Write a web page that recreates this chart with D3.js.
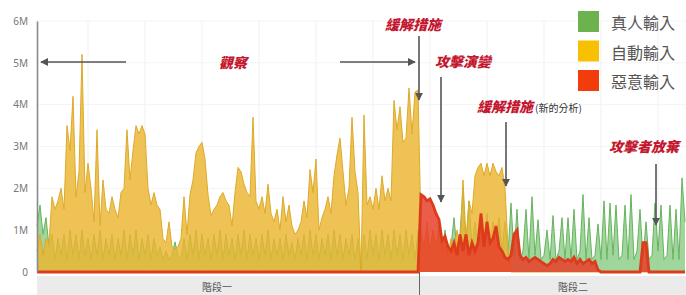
<!DOCTYPE html>
<html><head><meta charset="utf-8">
<script src="https://cdn.jsdelivr.net/npm/d3@7"></script>
<style>
html,body{margin:0;padding:0;background:#fff;}
svg{display:block;}
</style></head>
<body>
<svg id="chart" width="686" height="295"></svg>
<script>
// ---- data (values in millions, one value per time step) ----
const seriesNames = ["真人輸入", "自動輸入", "惡意輸入"];
const yTicks = [0, 1, 2, 3, 4, 5, 6];
const phaseLabels = ["階段一", "階段二"];
const phaseBoundary = 127.5; // time step where phase 2 starts

const human = [
 1.1,1.6,0.9,1.3,0.6,0.9,0.3,0.8,0.4,0.9,
 0.3,1.0,0.4,0.9,0.3,1.0,0.4,0.8,0.3,0.9,
 0.4,1.0,0.3,0.8,0.4,0.9,0.3,0.8,0.4,1.0,
 0.3,0.9,0.4,1.0,0.3,0.8,0.4,0.9,0.3,0.8,
 0.4,0.6,0.3,0.5,0.3,0.4,0.72,0.4,0.3,0.8,
 0.3,0.9,0.4,1.0,0.3,0.9,0.4,0.8,0.3,0.9,
 0.4,1.0,0.3,0.9,0.4,0.8,0.3,0.9,0.4,1.0,
 0.3,0.9,0.4,0.8,0.3,0.9,0.4,1.0,0.3,0.8,
 0.4,0.8,0.3,0.9,0.4,0.7,0.3,0.8,0.4,0.9,
 0.3,1.0,0.4,0.9,0.3,0.8,0.4,0.9,0.3,1.0,
 0.4,0.9,0.3,0.8,0.4,0.9,0.3,0.8,0,0.9,
 0.3,1.0,0.4,0.9,0.3,1.0,0.4,0.9,0.3,1.0,
 0.4,0.9,0.3,1.0,0.4,0.9,0.3,1.0,
 0.8,0.4,0.9,0.4,1.0,0.5,1.1,0.5,1.0,0.4,
 0.6,1.3,0.5,0.9,2.0,0.5,1.7,0.6,1.2,0.5,
 1.3,0.6,1.4,0.5,1.2,0.6,1.3,0.5,1.2,0.4,
 1.65,0.4,1.5,0.3,0.5,1.5,0.3,1.8,0.4,1.25,
 0.3,0.4,1.0,0.3,1.35,0.3,0.5,1.3,0.3,1.3,
 0.3,1.5,0.3,0.5,1.85,0.3,1.3,0.3,0.4,1.15,
 0.3,1.7,0.3,1.65,0.4,1.6,0.3,0.4,1.6,0.3,
 1.85,0.3,0.5,1.5,0.3,1.2,0.3,0.4,1.65,0.5,
 1.6,0.3,0.4,1.6,0.3,1.5,0.3,2.25,1.2
];

const automated = [
 0.5,0.9,0.4,0.8,0.7,1.8,1.5,1.7,2.0,1.5,
 3.5,2.9,4.2,1.8,2.4,5.2,1.9,2.6,2.0,1.2,
 3.4,1.1,2.2,1.5,1.4,1.8,1.5,1.3,1.9,2.0,
 3.4,2.2,2.9,3.5,3.3,3.5,3.3,2.0,1.6,1.9,
 1.6,1.5,0.8,0.7,1.2,0.6,0.55,0.6,0.8,1.8,
 0.9,1.85,2.2,2.85,3.0,3.1,2.7,1.85,1.35,1.5,
 1.6,1.8,1.9,1.7,1.6,1.1,1.9,2.5,2.4,2.1,
 1.9,1.8,3.7,1.7,1.5,1.8,1.4,2.1,1.4,1.2,
 1.5,1.0,1.8,1.2,1.6,1.1,0.9,1.0,1.2,1.7,
 1.3,2.45,1.9,2.7,1.0,1.3,1.5,1.8,1.4,2.3,
 2.8,3.2,2.4,1.6,2.0,3.7,2.4,1.9,0,3.75,
 1.6,1.8,1.5,2.0,1.5,2.3,1.7,2.0,1.7,4.1,
 3.4,3.95,3.1,3.2,4.4,3.3,4.3,4.35,
 1.0,0.6,1.2,0.5,1.0,0.6,1.1,0.5,0.9,0.4,
 0.8,0.5,1.0,0.6,2.2,0.8,1.7,1.4,2.3,2.5,
 2.6,2.3,2.6,2.3,2.6,2.4,2.3,2.5,2.0,0.6,
 0,0,0,0,0,0,0,0,0,0,
 0,0,0,0,0,0,0,0,0,0,
 0,0,0,0,0,0,0,0,0,0,
 0,0,0,0,0,0,0,0,0,0,
 0,0,0,0,0,0,0,0,0,0,
 0,0,0,0,0,0,0,0,0
];

const malicious = [
 0,0,0,0,0,0,0,0,0,0, 0,0,0,0,0,0,0,0,0,0,
 0,0,0,0,0,0,0,0,0,0, 0,0,0,0,0,0,0,0,0,0,
 0,0,0,0,0,0,0,0,0,0, 0,0,0,0,0,0,0,0,0,0,
 0,0,0,0,0,0,0,0,0,0, 0,0,0,0,0,0,0,0,0,0,
 0,0,0,0,0,0,0,0,0,0, 0,0,0,0,0,0,0,0,0,0,
 0,0,0,0,0,0,0,0,0,0, 0,0,0,0,0,0,0,0,0,0,
 0,0,0,0,0,0,0,0,
 1.85,1.8,1.7,1.75,1.6,1.4,1.25,0.75,0.85,0.6,
 0.5,0.7,0.4,0.9,0.5,0.9,0.4,0.7,0.5,0.7,
 1.4,0.6,1.2,0.7,0.8,1.1,0.6,0.5,0.35,0.3,
 0.4,0.9,1.0,0.4,0.3,0.35,0.25,0.3,0.35,0.3,
 0.25,0.2,0.15,0.2,0.3,0.25,0.35,0.3,0.25,0.3,
 0.25,0.35,0.2,0.3,0.2,0.25,0.3,0.2,0.25,0.05,
 0,0,0,0,0,0,0,0,0,0,
 0,0,0,0,0.7,0.7,0,0,0,0,
 0,0,0,0,0,0,0,0,0
];

// annotations
const notes = [
  {text: "觀察", x: 219, y: 68},
  {text: "緩解措施", x: 385, y: 30},
  {text: "攻擊演變", x: 435, y: 67},
  {text: "緩解措施", x: 477, y: 112, extra: "(新的分析)"},
  {text: "攻擊者放棄", x: 609, y: 152}
];
const arrows = [
  [126, 62, 41, 62],
  [340, 62, 415, 62],
  [419, 36, 419, 100],
  [441, 77, 441, 202],
  [506, 122, 506, 186],
  [656, 164, 656, 225]
];

// ---- drawing ----
const svg = d3.select("#chart");
const L = 37, R = 685, T = 21, B = 272;
const n = human.length;
const x = d3.scaleLinear().domain([0, n - 1]).range([L, R]);
const y = d3.scaleLinear().domain([0, 6]).range([B, T]);

// gridlines
const g = svg.append("g");
g.selectAll("line.v").data(d3.range(88, 686, 57)).join("line")
  .attr("x1", d => d).attr("x2", d => d).attr("y1", T).attr("y2", B)
  .attr("stroke", "#f1f1f1").attr("stroke-width", 1);
g.selectAll("line.h").data(yTicks.filter(d => d > 0)).join("line")
  .attr("x1", L).attr("x2", 686).attr("y1", d => y(d)).attr("y2", d => y(d))
  .attr("stroke", "#f4f4f4").attr("stroke-width", 1);

// bottom band
svg.append("rect").attr("x", L).attr("y", 276).attr("width", 686 - L).attr("height", 19).attr("fill", "#ebebeb");
svg.append("text").attr("x", 217).attr("y", 291).attr("text-anchor", "middle")
  .attr("font-family", "Noto Sans CJK TC").attr("font-size", 10).attr("fill", "#555").text(phaseLabels[0]);
svg.append("text").attr("x", 573).attr("y", 291).attr("text-anchor", "middle")
  .attr("font-family", "Noto Sans CJK TC").attr("font-size", 10).attr("fill", "#555").text(phaseLabels[1]);

const area = d3.area().x((d, i) => x(i)).y0(y(0)).y1(d => y(d)).curve(d3.curveLinear);
const line = d3.line().x((d, i) => x(i)).y(d => y(d)).curve(d3.curveLinear);

svg.append("path").datum(human).attr("d", area).attr("fill", "#7cc576").attr("fill-opacity", 0.72);
svg.append("path").datum(human).attr("d", line).attr("fill", "none").attr("stroke", "#67b35f").attr("stroke-width", 1);
svg.append("path").datum(automated).attr("d", area).attr("fill", "#ebb52f").attr("fill-opacity", 0.82);
svg.append("path").datum(automated).attr("d", line).attr("fill", "none").attr("stroke", "#deaa28").attr("stroke-width", 1);
svg.append("path").datum(malicious).attr("d", area).attr("fill", "#e8402a").attr("fill-opacity", 0.85);
svg.append("path").datum(malicious).attr("d", line).attr("fill", "none").attr("stroke", "#dc3b1c").attr("stroke-width", 2.8);

// phase divider
svg.append("line").attr("x1", x(phaseBoundary)).attr("x2", x(phaseBoundary)).attr("y1", B).attr("y2", 295)
  .attr("stroke", "#666").attr("stroke-width", 1);

// y axis
const ax = svg.append("g").attr("transform", `translate(${L},0)`)
  .call(d3.axisLeft(y).tickValues(yTicks).tickSize(0).tickPadding(9).tickFormat(d => d === 0 ? "0" : d + "M"));
ax.select(".domain").attr("stroke", "#8a8a8a").attr("stroke-width", 1.6);
ax.selectAll("text").attr("font-family", "Noto Sans, sans-serif").attr("font-size", 10).attr("fill", "#777");

// arrows
const defs = svg.append("defs");
defs.append("marker").attr("id", "ah").attr("viewBox", "0 0 10 10").attr("refX", 9).attr("refY", 5)
  .attr("markerWidth", 5).attr("markerHeight", 5).attr("orient", "auto")
  .append("path").attr("d", "M0,0 L10,5 L0,10 z").attr("fill", "#555");
svg.selectAll("line.arrow").data(arrows).join("line").attr("class", "arrow")
  .attr("x1", d => d[0]).attr("y1", d => d[1]).attr("x2", d => d[2]).attr("y2", d => d[3])
  .attr("stroke", "#555").attr("stroke-width", 1.6).attr("marker-end", "url(#ah)");

// annotation text
notes.forEach(nt => {
  svg.append("text").attr("x", nt.x).attr("y", nt.y)
    .attr("font-family", "Noto Sans CJK TC").attr("font-size", 14).attr("font-weight", 900)
    .attr("font-style", "italic").attr("fill", "#c4162f").text(nt.text);
  if (nt.extra) {
    svg.append("text").attr("x", nt.x + 58).attr("y", nt.y)
      .attr("font-family", "Noto Sans CJK TC").attr("font-size", 10).attr("fill", "#333").text(nt.extra);
  }
});

// legend
const legendColors = ["#6cb24e", "#f7c000", "#f23c0c"];
const lg = svg.append("g");
seriesNames.forEach((s, i) => {
  lg.append("rect").attr("x", 578).attr("y", 11 + i * 29.5).attr("width", 21).attr("height", 21).attr("fill", legendColors[i]);
  lg.append("text").attr("x", 611).attr("y", 29 + i * 29.5).attr("font-family", "Noto Sans CJK TC")
    .attr("font-size", 16).attr("fill", "#555").text(s);
});
</script>
</body></html>
